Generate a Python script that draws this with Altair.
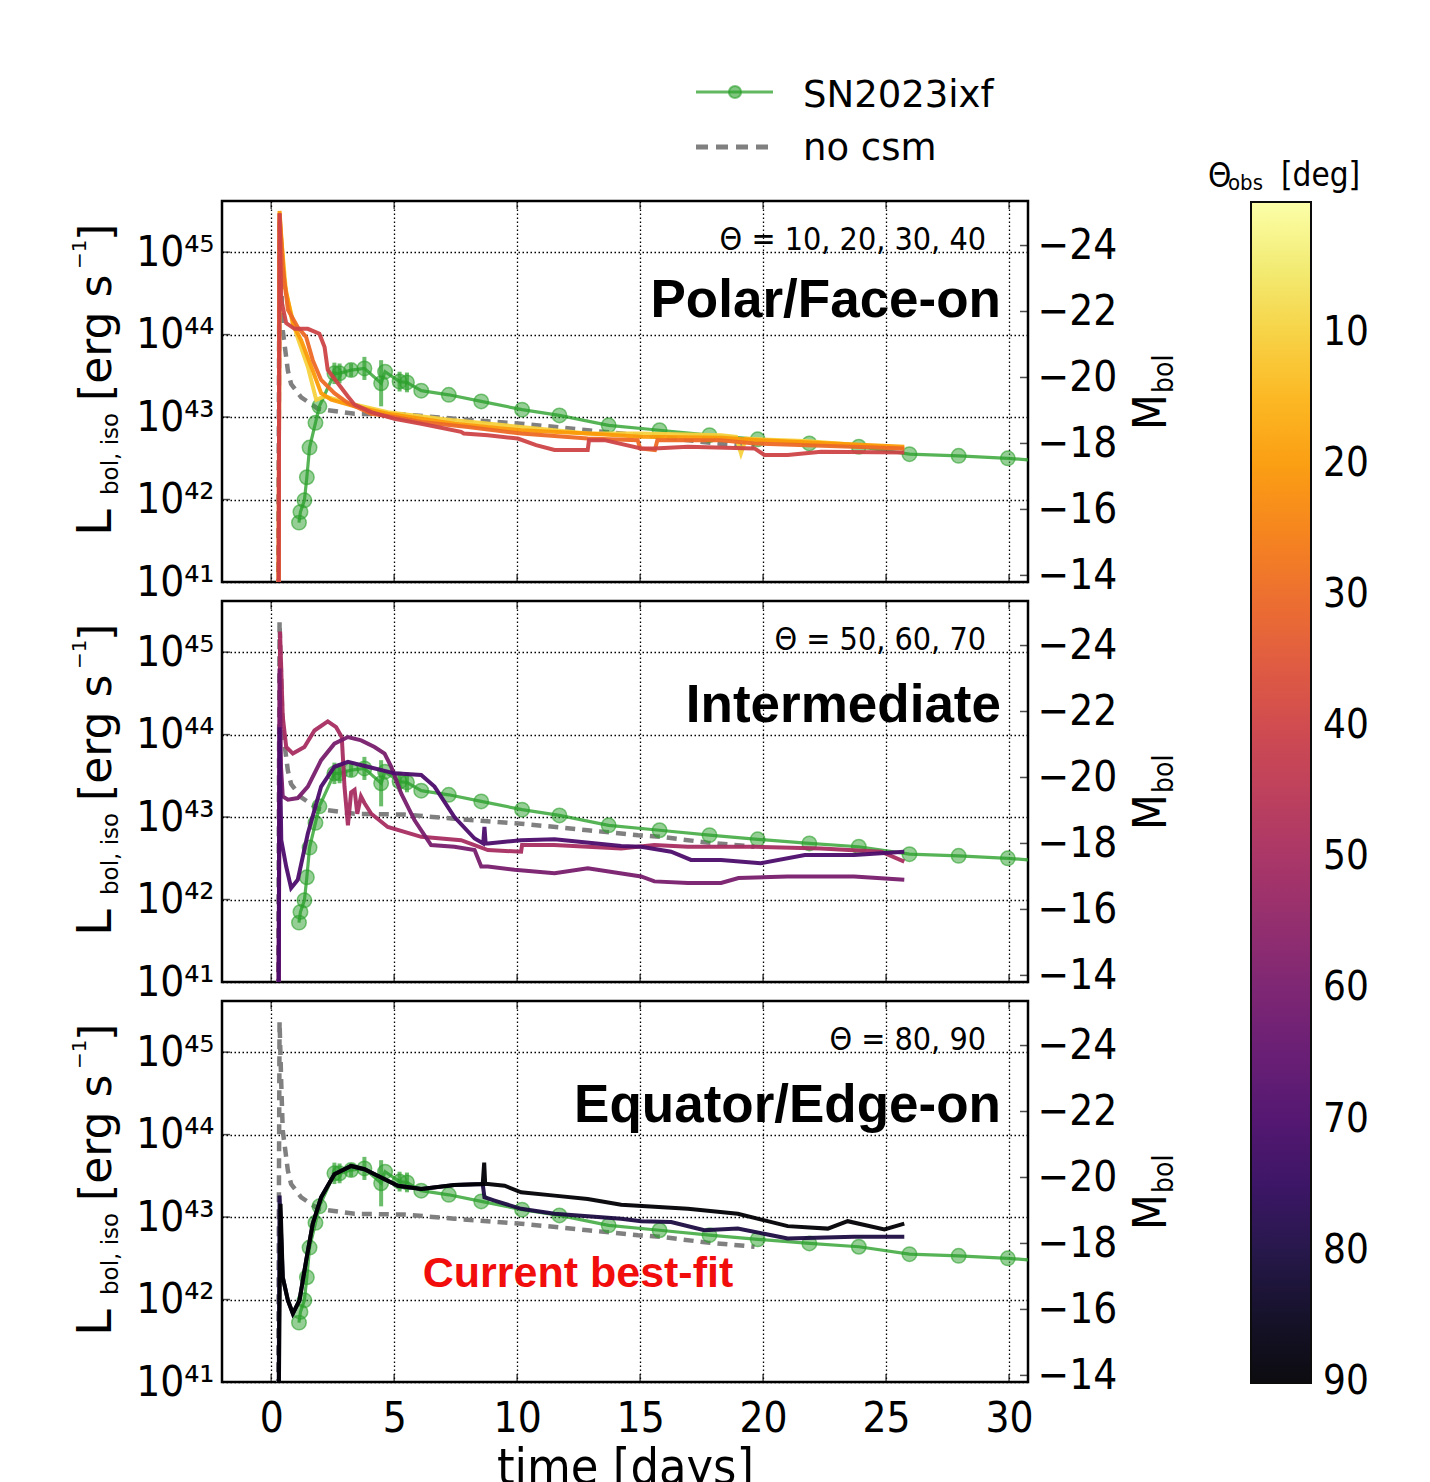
import altair as alt
import pandas as pd

# ---------------- data ----------------
# observed SN2023ixf (time in days, log10 L)
OBS_T = [1.13, 1.19, 1.35, 1.45, 1.56, 1.80, 1.96, 2.57, 2.78, 3.25, 3.79, 4.47, 4.63, 5.22, 5.52,
         6.10, 7.22, 8.54, 10.20, 11.72, 13.72, 15.79, 17.82, 19.78, 21.88, 23.89, 25.95, 27.95, 29.95]
OBS_L = [41.72, 41.85, 41.99, 42.27, 42.63, 42.93, 43.13, 43.53, 43.53, 43.57, 43.59, 43.41, 43.55, 43.43, 43.42,
         43.32, 43.27, 43.19, 43.09, 43.02, 42.90, 42.84, 42.78, 42.73, 42.68, 42.64, 42.55, 42.53, 42.50]
OBS_ERR = [0, 0, 0, 0, 0, 0, 0, 0.13, 0.12, 0.08, 0.14, 0.28, 0.0, 0.12, 0.12,
           0, 0, 0, 0, 0, 0, 0, 0, 0, 0, 0, 0, 0, 0]
# fitted observed curve (extends to the right edge)
FIT_T = OBS_T + [30.77]
FIT_L = OBS_L + [42.48]

# no-CSM model
NOCSM_T = [0.28, 0.34, 0.41, 0.47, 0.68, 0.81, 1.22, 1.90, 3.39, 5.42, 7.45, 10.16, 12.87, 14.91, 15.85, 17.75, 19.65]
NOCSM_L = [40.5, 45.37, 44.61, 44.05, 43.56, 43.40, 43.24, 43.10, 43.04, 43.03, 42.98, 42.92, 42.84, 42.78, 42.76, 42.69, 42.64]

# viewing-angle models
T10 = [0.30, 0.34, 0.61, 1.02, 1.49, 1.83, 2.17, 3.12, 4.74, 7.45, 10.16, 12.87, 15.04, 18.29, 18.9, 19.1, 19.3, 19.9, 21.7, 25.74]
L10 = [40.5, 45.40, 44.50, 44.01, 43.61, 43.21, 43.25, 43.17, 43.06, 42.96, 42.88, 42.80, 42.80, 42.78, 42.76, 42.56, 42.74, 42.73, 42.71, 42.62]
T20 = [0.30, 0.34, 0.54, 0.88, 1.22, 1.63, 2.03, 2.44, 3.39, 4.74, 7.45, 10.16, 12.87, 15.04, 18.29, 19.9, 25.74]
L20 = [40.5, 45.50, 44.62, 44.13, 43.93, 43.61, 43.29, 43.21, 43.13, 43.04, 42.92, 42.84, 42.80, 42.76, 42.75, 42.72, 42.64]
T30 = [0.30, 0.34, 0.47, 0.68, 1.08, 1.42, 1.69, 2.03, 2.57, 3.12, 4.07, 5.01, 6.10, 8.0, 10.16, 12.87, 14.9, 15.0, 15.6, 15.7, 18.29, 19.65, 25.74]
L30 = [40.5, 45.47, 44.82, 44.30, 44.09, 43.97, 43.69, 43.45, 43.29, 43.17, 43.04, 43.00, 42.94, 42.88, 42.80, 42.74, 42.72, 42.62, 42.60, 42.72, 42.72, 42.68, 42.62]
T40 = [0.30, 0.34, 0.41, 0.61, 0.95, 1.49, 1.96, 2.17, 2.30, 2.71, 3.12, 3.39, 4.07, 5.01, 6.10, 7.72, 7.83, 8.81, 10.03,
       10.77, 11.52, 12.87, 12.92, 13.55, 15.04, 15.58, 16.94, 19.65, 20.05, 21.0, 22.36, 25.74]
L40 = [40.5, 45.47, 44.42, 44.14, 44.07, 44.07, 44.01, 43.85, 43.57, 43.41, 43.25, 43.15, 43.06, 42.98, 42.92, 42.82, 42.80, 42.78, 42.74,
       42.66, 42.60, 42.60, 42.72, 42.72, 42.62, 42.62, 42.64, 42.62, 42.54, 42.54, 42.58, 42.57]
T50 = [0.30, 0.36, 0.47, 0.61, 0.88, 1.35, 1.76, 2.30, 2.64, 2.87, 2.98, 3.12, 3.25, 3.39, 3.50, 3.65, 3.79, 4.07, 4.74,
       6.10, 7.72, 8.81, 10.16, 10.2, 11.5, 14.23, 15.58, 16.94, 19.65, 22.36, 24.8, 25.74]
L50 = [40.5, 45.25, 44.22, 43.85, 43.77, 43.85, 44.05, 44.16, 44.09, 43.97, 43.37, 42.90, 43.30, 43.33, 43.04, 43.25, 43.17, 43.04, 42.88,
       42.76, 42.72, 42.60, 42.58, 42.66, 42.66, 42.62, 42.66, 42.64, 42.64, 42.62, 42.58, 42.46]
T60 = [0.30, 0.34, 0.40, 0.47, 0.68, 1.08, 1.49, 2.03, 2.57, 3.12, 3.66, 4.20, 4.61, 4.88, 5.28, 5.83, 6.50, 7.45, 8.27, 8.54,
       8.81, 9.89, 11.52, 12.87, 15.04, 15.58, 16.94, 18.29, 19.0, 21.0, 23.7, 25.74]
L60 = [40.5, 44.80, 43.60, 43.25, 43.21, 43.23, 43.37, 43.69, 43.89, 43.97, 43.93, 43.85, 43.77, 43.61, 43.29, 42.96, 42.66, 42.64, 42.60, 42.40,
       42.40, 42.36, 42.32, 42.38, 42.28, 42.22, 42.20, 42.20, 42.26, 42.28, 42.28, 42.24]
T70 = [0.30, 0.34, 0.41, 0.61, 0.81, 1.08, 1.49, 2.03, 2.57, 3.12, 3.93, 5.01, 6.10, 6.64, 7.45, 8.27, 8.62, 8.67, 8.72, 8.81,
       10.16, 11.52, 14.23, 15.04, 16.26, 17.07, 18.29, 19.9, 21.7, 23.7, 25.74]
L70 = [40.5, 44.09, 42.72, 42.40, 42.14, 42.24, 42.80, 43.37, 43.61, 43.67, 43.61, 43.53, 43.51, 43.37, 43.00, 42.74, 42.68, 42.88, 42.68, 42.68,
       42.72, 42.73, 42.65, 42.64, 42.58, 42.48, 42.48, 42.44, 42.54, 42.54, 42.58]
T80 = [0.30, 0.34, 0.47, 0.68, 0.88, 1.15, 1.42, 1.69, 2.03, 2.57, 3.25, 3.79, 4.47, 5.15, 6.10, 7.45, 8.60, 8.67, 9.08,
       10.16, 11.52, 14.23, 15.04, 16.26, 17.61, 18.97, 21.0, 23.7, 25.74]
L80 = [40.5, 43.26, 42.27, 41.99, 41.83, 41.99, 42.47, 42.92, 43.24, 43.52, 43.62, 43.58, 43.48, 43.38, 43.34, 43.39, 43.40, 43.24, 43.20,
       43.10, 43.04, 42.98, 42.95, 42.94, 42.84, 42.86, 42.74, 42.76, 42.76]
T90 = [0.30, 0.38, 0.47, 0.68, 0.88, 1.15, 1.42, 1.69, 2.03, 2.57, 3.25, 3.79, 4.47, 5.15, 6.10, 7.45, 8.60, 8.66, 8.70, 8.81,
       9.49, 10.16, 11.52, 12.87, 14.23, 16.94, 18.97, 21.0, 22.63, 23.44, 24.93, 25.74]
L90 = [40.5, 43.16, 42.27, 41.99, 41.83, 41.99, 42.47, 42.92, 43.24, 43.52, 43.62, 43.58, 43.48, 43.38, 43.34, 43.39, 43.40, 43.66, 43.40, 43.40,
       43.38, 43.30, 43.26, 43.22, 43.15, 43.10, 43.04, 42.89, 42.86, 42.95, 42.85, 42.92]

MODELS = {10: (T10, L10), 20: (T20, L20), 30: (T30, L30), 40: (T40, L40), 50: (T50, L50),
          60: (T60, L60), 70: (T70, L70), 80: (T80, L80), 90: (T90, L90)}
PANEL_THETAS = [[10, 20, 30, 40], [50, 60, 70], [80, 90]]
THETA_LABELS = ["Θ = 10, 20, 30, 40", "Θ = 50, 60, 70", "Θ = 80, 90"]
PANEL_TITLES = ["Polar/Face-on", "Intermediate", "Equator/Edge-on"]

X_TICKS = [0, 5, 10, 15, 20, 25, 30]
Y_TICKS = [1e41, 1e42, 1e43, 1e44, 1e45]
Y_TICK_LABELS = ["10⁴¹", "10⁴²", "10⁴³", "10⁴⁴", "10⁴⁵"]
M_TICKS = [-24, -22, -20, -18, -16, -14]
CBAR_TICKS = [-90, -80, -70, -60, -50, -40, -30, -20, -10]

# ---------------- tables ----------------
obs = pd.DataFrame({"t": OBS_T, "L": [10 ** v for v in OBS_L],
                    "lo": [10 ** (v - e) for v, e in zip(OBS_L, OBS_ERR)],
                    "hi": [10 ** (v + e) for v, e in zip(OBS_L, OBS_ERR)],
                    "e": OBS_ERR})
err = obs[obs.e > 0]
fit = pd.DataFrame({"t": FIT_T, "L": [10 ** v for v in FIT_L], "i": range(len(FIT_T))})
nocsm = pd.DataFrame({"t": NOCSM_T, "L": [10 ** v for v in NOCSM_L], "i": range(len(NOCSM_T))})
rows = []
for th, (ts, ls) in MODELS.items():
    for k, (t, l) in enumerate(zip(ts, ls)):
        rows.append({"theta": th, "c": -th, "t": t, "L": 10 ** l, "i": k})
models = pd.DataFrame(rows)
mdf = pd.DataFrame({"M": M_TICKS})
xt = pd.DataFrame({"t": X_TICKS})
yt = pd.DataFrame({"L": Y_TICKS})

NUM_FONT = "DejaVu Sans Condensed, Liberation Sans Narrow, DejaVu Sans"
TXT_FONT = "DejaVu Sans"
BOLD_FONT = "Liberation Sans, Arial, sans-serif"
GREEN = "#2ca02c"

W, H = 806, 381
xsc = alt.Scale(domain=[-2, 30.77], nice=False, zero=False)
ysc = alt.Scale(type="log", domain=[1e41, 10 ** 45.62], nice=False)
msc = alt.Scale(domain=[-13.8, -25.35], nice=False, zero=False)

ylabel_expr = " : ".join(
    [f"datum.value == {v:.0e} ? '{s}'" for v, s in zip(Y_TICKS, Y_TICK_LABELS)]) + " : ''"

yaxis = alt.Axis(values=Y_TICKS, labelExpr=ylabel_expr, title=None, grid=True, ticks=False,
                 domain=False, labelFont=NUM_FONT, labelFontSize=42, labelPadding=8,
                 labelColor="black", gridColor="black", gridDash=[1.5, 2.5], gridWidth=1.3)

cleg = alt.Legend(orient="none", legendX=1029, legendY=1, direction="vertical",
                  gradientLength=1181, gradientThickness=60, title=None,
                  values=CBAR_TICKS, labelExpr="format(-datum.value, 'd')",
                  labelFont=NUM_FONT, labelFontSize=40, labelOffset=12, labelColor="black",
                  labelOverlap=False, labelBaseline="middle",
                  gradientStrokeColor="black", gradientStrokeWidth=2, padding=0)
cscale = alt.Scale(scheme="inferno", domain=[-90.1, 0])


def ptext(text, x, y, size, font=TXT_FONT, weight="normal", align="left", angle=None, color="black"):
    kw = dict(text=text, fontSize=size, font=font, fontWeight=weight, align=align,
              baseline="alphabetic", color=color)
    if angle is not None:
        kw["angle"] = angle
    return alt.Chart(pd.DataFrame({"s": [text]})).mark_text(**kw).encode(
        x=alt.value(x), y=alt.value(y))


def panel(p):
    last = p == 2
    if last:
        xaxis = alt.Axis(values=X_TICKS, grid=True, ticks=False, domain=False, labels=True,
                         title="time [days]", titleFontSize=50, titleFontWeight="normal",
                         titleFont=NUM_FONT, titlePadding=4, labelFont=NUM_FONT,
                         labelFontSize=42, labelPadding=16, labelColor="black",
                         gridColor="black", gridDash=[1.5, 2.5], gridWidth=1.3)
    else:
        xaxis = alt.Axis(values=X_TICKS, grid=True, ticks=False, domain=False, labels=False,
                         title=None, gridColor="black", gridDash=[1.5, 2.5], gridWidth=1.3)
    X = alt.X("t:Q", scale=xsc, axis=xaxis)
    Y = alt.Y("L:Q", scale=ysc, axis=yaxis)

    l_nocsm = alt.Chart(nocsm).mark_line(color="#808080", strokeWidth=4.5, strokeDash=[10, 7],
                                         clip=True).encode(x=X, y=Y, order="i:Q")
    l_fit = alt.Chart(fit).mark_line(color=GREEN, strokeWidth=3.2, opacity=0.8, clip=True).encode(
        x=X, y=Y, order="i:Q")
    l_err = alt.Chart(err).mark_rule(color=GREEN, strokeWidth=4, opacity=0.7).encode(
        x=X, y=alt.Y("lo:Q", scale=ysc, axis=yaxis), y2="hi:Q")
    l_pts = alt.Chart(obs).mark_point(filled=True, size=210, fill=GREEN, fillOpacity=0.5,
                                      stroke=GREEN, strokeOpacity=0.6, strokeWidth=1.5).encode(x=X, y=Y)
    msub = models[models.theta.isin(PANEL_THETAS[p])]
    l_mod = alt.Chart(msub).mark_line(strokeWidth=4, opacity=0.95, clip=True).encode(
        x=X, y=Y, color=alt.Color("c:Q", scale=cscale, legend=cleg),
        detail="theta:N", order="i:Q")
    # inward ticks on the frame
    tk_left = alt.Chart(yt).mark_tick(color="black", size=8, thickness=1.5).encode(
        y=Y, x=alt.value(4))
    tk_bot = alt.Chart(xt).mark_tick(color="black", size=8, thickness=1.5, orient="vertical").encode(
        x=X, y=alt.value(H - 4))
    tk_top = alt.Chart(xt).mark_tick(color="black", size=8, thickness=1.5, orient="vertical").encode(
        x=X, y=alt.value(4))

    layers = [l_nocsm, l_fit, l_err, l_pts, l_mod, tk_left, tk_bot, tk_top]
    tb = 116 if p == 0 else 121
    layers.append(ptext(THETA_LABELS[p], 764, 49, 32, font=NUM_FONT, align="right"))
    layers.append(ptext(PANEL_TITLES[p], 779, tb, 53, font=BOLD_FONT, weight="bold", align="right"))
    # left axis title pieces (rotated)
    layers.append(ptext("L", -111, 335, 48, angle=270))
    layers.append(ptext("bol, iso", -104, 294, 23, angle=270))
    layers.append(ptext("[erg s", -111, 200, 44, angle=270))
    layers.append(ptext("−1", -136, 68, 20, angle=270))
    layers.append(ptext("]", -111, 40, 44, angle=270))
    # right axis title
    layers.append(ptext("M", 944, 229, 46, font=NUM_FONT, angle=270))
    layers.append(ptext("bol", 951, 192, 28, font=NUM_FONT, angle=270))
    if p == 0:
        # legend
        leg = pd.DataFrame({"a": [0]})
        layers.append(alt.Chart(leg).mark_rule(color=GREEN, strokeWidth=3, opacity=0.75).encode(
            x=alt.value(474), x2=alt.value(551), y=alt.value(-109)))
        layers.append(alt.Chart(leg).mark_point(filled=True, size=150, fill=GREEN, fillOpacity=0.6,
                                                stroke=GREEN, strokeOpacity=0.6).encode(
            x=alt.value(513), y=alt.value(-109)))
        layers.append(alt.Chart(leg).mark_rule(color="#808080", strokeWidth=5, strokeDash=[12, 8]).encode(
            x=alt.value(474), x2=alt.value(551), y=alt.value(-54)))
        layers.append(ptext("SN2023ixf", 581, -94, 37))
        layers.append(ptext("no csm", 581, -41, 37))
        # colorbar title
        layers.append(ptext("Θ", 986, -14, 33, font=NUM_FONT))
        layers.append(ptext("obs", 1006, -11, 22, font=NUM_FONT))
        layers.append(ptext("[deg]", 1059, -15, 33, font=NUM_FONT))
    if last:
        layers.append(ptext("Current best-fit", 356, 286, 43, font=BOLD_FONT, weight="bold",
                            align="center", color="#f20d0d"))

    left = alt.layer(*layers)
    right = alt.Chart(mdf).mark_tick(color="black", size=8, thickness=1.5).encode(
        x=alt.value(W - 4),
        y=alt.Y("M:Q", scale=msc,
                axis=alt.Axis(orient="right", values=M_TICKS, grid=False, ticks=False, domain=False,
                              title=None, labelExpr="'−' + format(abs(datum.value), 'd')",
                              labelFont=NUM_FONT, labelFontSize=42, labelPadding=9,
                              labelColor="black")))
    return alt.layer(left, right).resolve_scale(y="independent").properties(width=W, height=H)


chart = alt.vconcat(panel(0), panel(1), panel(2), spacing=19, bounds="flush").properties(
    padding={"left": 60, "top": 67, "right": 5, "bottom": 5}
).configure(background="white").configure_view(stroke="black", strokeWidth=2.5)

chart.save("out.html", embed_options={"renderer": "svg", "actions": False})
